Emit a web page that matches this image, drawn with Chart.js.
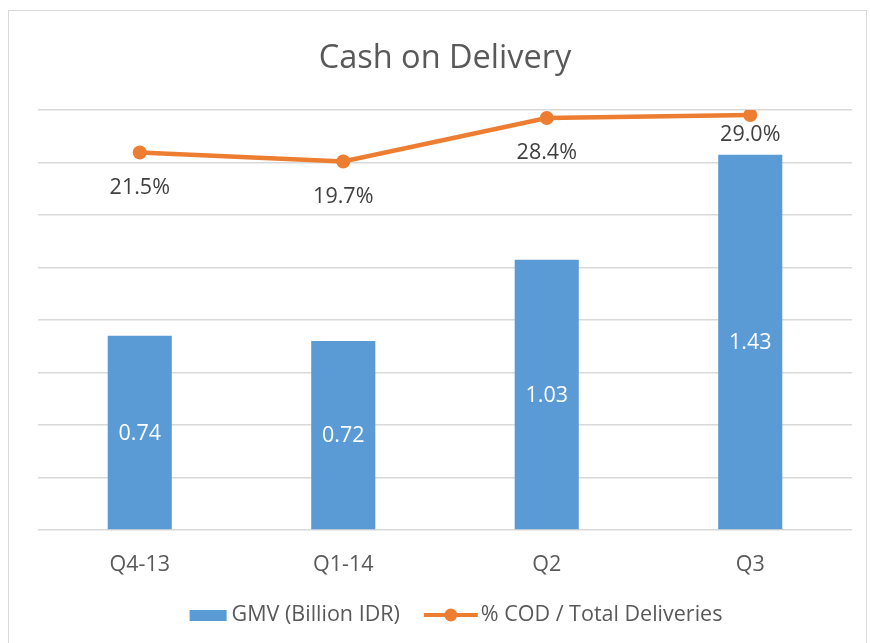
<!DOCTYPE html>
<html lang="en">
<head>
    <meta charset="UTF-8">
    <title>Cash on Delivery</title>
    <script src="https://cdn.jsdelivr.net/npm/chart.js"></script>
    <style>
        body { margin: 0; background: #fff; }
        #box { position: absolute; left: 8px; top: 10px; width: 857px; height: 640px; border: 1px solid #d9d9d9; }
    </style>
</head>
<body>
    <div id="box"><canvas id="codChart" width="857" height="640"></canvas></div>
    <script>
        const quarters = ['Q4-13', 'Q1-14', 'Q2', 'Q3'];
        const gmv = [0.74, 0.72, 1.03, 1.43];
        const codShare = [21.5, 19.7, 28.4, 29.0];
        const gmvLabels = ['0.74', '0.72', '1.03', '1.43'];
        const codLabels = ['21.5%', '19.7%', '28.4%', '29.0%'];

        const FONT = '"Open Sans", Lato, sans-serif';
        const BLUE = '#5b9bd5';
        const ORANGE = '#ed7d31';
        const GREY = '#595959';

        // draws the value labels and the legend at the bottom (Excel style)
        const labelsAndLegend = {
            id: 'labelsAndLegend',
            afterDatasetsDraw(chart) {
                const ctx = chart.ctx;
                ctx.save();
                ctx.font = '21.5px ' + FONT;
                ctx.textAlign = 'center';
                ctx.textBaseline = 'middle';

                chart.getDatasetMeta(0).data.forEach((bar, i) => {
                    ctx.fillStyle = '#ffffff';
                    ctx.fillText(gmvLabels[i], bar.x, (bar.y + bar.base) / 2 + 1);
                });

                const below = [35, 35, 35, 20];
                chart.getDatasetMeta(1).data.forEach((pt, i) => {
                    ctx.fillStyle = '#404040';
                    ctx.fillText(codLabels[i], pt.x, pt.y + below[i]);
                });

                // legend
                const y = 604;
                ctx.textAlign = 'left';
                const t1 = 'GMV (Billion IDR)';
                const t2 = '% COD / Total Deliveries';
                const w1 = ctx.measureText(t1).width;
                const w2 = ctx.measureText(t2).width;
                const total = 37 + 5 + w1 + 24 + 54 + 3 + w2;
                let x = 447 - total / 2;
                ctx.fillStyle = BLUE;
                ctx.fillRect(x, y - 5, 37, 11);
                x += 42;
                ctx.fillStyle = GREY;
                ctx.fillText(t1, x, y);
                x += w1 + 24;
                ctx.strokeStyle = ORANGE;
                ctx.lineWidth = 4;
                ctx.beginPath();
                ctx.moveTo(x, y);
                ctx.lineTo(x + 54, y);
                ctx.stroke();
                ctx.fillStyle = ORANGE;
                ctx.beginPath();
                ctx.arc(x + 27, y, 6.5, 0, Math.PI * 2);
                ctx.fill();
                x += 57;
                ctx.fillStyle = GREY;
                ctx.fillText(t2, x, y);
                ctx.restore();
            }
        };

        const data = {
            labels: quarters,
            datasets: [{
                type: 'bar',
                label: 'GMV (Billion IDR)',
                data: gmv,
                backgroundColor: BLUE,
                yAxisID: 'y',
                categoryPercentage: 1,
                barPercentage: 0.315,
                order: 2
            }, {
                type: 'line',
                label: '% COD / Total Deliveries',
                data: codShare,
                borderColor: ORANGE,
                backgroundColor: ORANGE,
                borderWidth: 4.5,
                pointRadius: 7,
                pointHoverRadius: 7,
                pointBackgroundColor: ORANGE,
                pointBorderWidth: 0,
                tension: 0,
                yAxisID: 'y1',
                order: 1
            }]
        };

        const config = {
            type: 'bar',
            data: data,
            plugins: [labelsAndLegend],
            options: {
                responsive: false,
                animation: false,
                layout: { padding: { left: 29, right: 14, top: 0, bottom: 0 } },
                plugins: {
                    legend: { display: false },
                    tooltip: { enabled: false },
                    title: {
                        display: true,
                        text: 'Cash on Delivery',
                        color: GREY,
                        font: { family: FONT, size: 32.5, weight: 'normal' },
                        padding: { top: 28, bottom: 32 }
                    }
                },
                scales: {
                    x: {
                        grid: { display: false, drawTicks: false },
                        border: { display: false },
                        ticks: { color: GREY, font: { family: FONT, size: 21.5 }, padding: 22 },
                        afterFit(scale) { scale.height = 121; }
                    },
                    y: {
                        position: 'left',
                        min: 0,
                        max: 1.6,
                        ticks: { display: false, stepSize: 0.2 },
                        grid: { color: '#d9d9d9', lineWidth: 1.5, drawTicks: false },
                        border: { display: false }
                    },
                    y1: {
                        display: false,
                        min: -54,
                        max: 30
                    }
                }
            }
        };

        const chart = new Chart(document.getElementById('codChart'), config);
    </script>
</body>
</html>
